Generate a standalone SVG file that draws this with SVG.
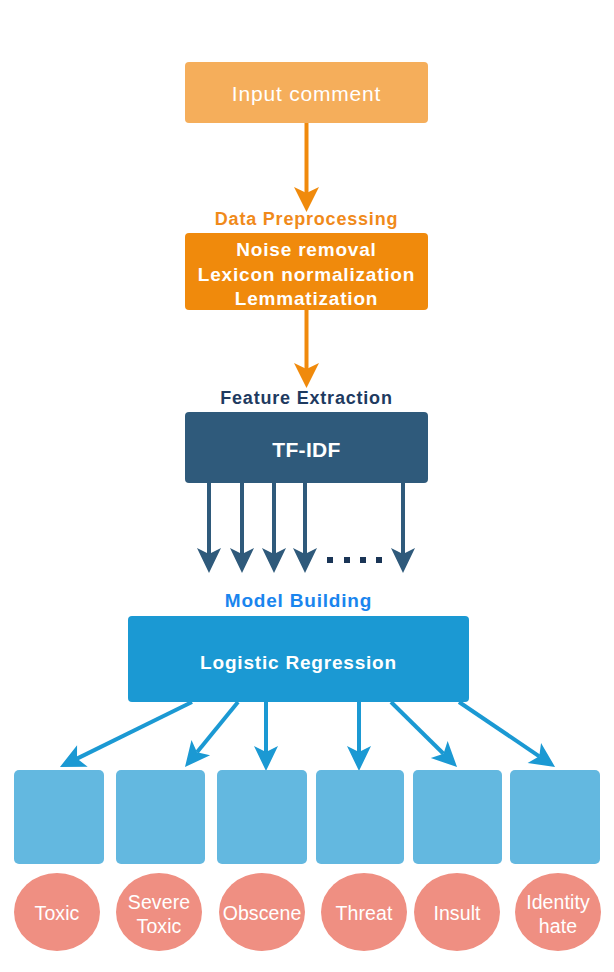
<svg xmlns="http://www.w3.org/2000/svg" width="614" height="972" viewBox="0 0 614 972">
<defs>
<marker id="ahO" markerUnits="userSpaceOnUse" markerWidth="27" markerHeight="26" viewBox="-7 -13 27 26" refX="0" refY="0" orient="auto"><path d="M19,0 L-6,-12.5 L0,0 L-6,12.5 Z" fill="#F08A0C"/></marker>
<marker id="ahD" markerUnits="userSpaceOnUse" markerWidth="27" markerHeight="26" viewBox="-7 -13 27 26" refX="0" refY="0" orient="auto"><path d="M19,0 L-6,-12 L0,0 L-6,12 Z" fill="#2F5A7B"/></marker>
<marker id="ahB" markerUnits="userSpaceOnUse" markerWidth="27" markerHeight="26" viewBox="-7 -13 27 26" refX="0" refY="0" orient="auto"><path d="M19,0 L-6,-12 L0,0 L-6,12 Z" fill="#1B99D3"/></marker>
</defs>
<style>
text{font-family:"Liberation Sans",Arial,sans-serif;text-anchor:middle}
.b{font-weight:bold;letter-spacing:0.8px}
.w{fill:#fff}
.lbl{font-size:18px}
.sq{fill:#63B8E0}
.ci{fill:#EF8F82}
.cl{font-size:19.5px;fill:#fff;letter-spacing:0.1px}
.co{stroke:#F08A0C;stroke-width:4;fill:none;marker-end:url(#ahO)}
.cd{stroke:#2F5A7B;stroke-width:4;fill:none;marker-end:url(#ahD)}
.cb{stroke:#1B99D3;stroke-width:4;fill:none;marker-end:url(#ahB)}
</style>
<rect width="614" height="972" fill="#fff"/>
<g id="connectors">
<line class="co" x1="306.5" y1="123" x2="306.5" y2="193"/>
<line class="co" x1="306.5" y1="310" x2="306.5" y2="369"/>
<line class="cd" x1="209" y1="483" x2="209" y2="554"/>
<line class="cd" x1="242" y1="483" x2="242" y2="554"/>
<line class="cd" x1="274" y1="483" x2="274" y2="554"/>
<line class="cd" x1="305" y1="483" x2="305" y2="554"/>
<line class="cd" x1="403" y1="483" x2="403" y2="554"/>
<g fill="#1A3556">
<rect x="327" y="557" width="6" height="6"/>
<rect x="344" y="557" width="6" height="6"/>
<rect x="360" y="557" width="6" height="6"/>
<rect x="376" y="557" width="6" height="6"/>
</g>
<line class="cb" x1="192" y1="702" x2="77" y2="758.6"/>
<line class="cb" x1="238" y1="702" x2="197" y2="752.3"/>
<line class="cb" x1="266" y1="702" x2="266" y2="752"/>
<line class="cb" x1="359" y1="702" x2="359" y2="752"/>
<line class="cb" x1="391" y1="702" x2="443.5" y2="753.7"/>
<line class="cb" x1="459" y1="702" x2="539.3" y2="756.3"/>
</g>
<g id="input">
<rect x="185" y="62" width="243" height="61" rx="4" fill="#F5AE5B"/>
<text x="306.5" y="100.5" class="w" style="font-size:21px;letter-spacing:0.8px">Input comment</text>
</g>
<g id="preprocessing">
<text x="306.5" y="224.5" class="b lbl" fill="#F08A1A">Data Preprocessing</text>
<rect x="185" y="233" width="243" height="77" rx="4" fill="#F08A0C"/>
<text x="306.5" y="255.8" class="b w" style="font-size:19px">Noise removal</text>
<text x="306.5" y="280.8" class="b w" style="font-size:19px">Lexicon normalization</text>
<text x="306.5" y="304.8" class="b w" style="font-size:19px">Lemmatization</text>
</g>
<g id="feature">
<text x="306.5" y="403.5" class="b lbl" fill="#1E3A5F">Feature Extraction</text>
<rect x="185" y="412" width="243" height="71" rx="4" fill="#2F5A7B"/>
<text x="306.5" y="457" class="w" style="font-size:21px;font-weight:bold;letter-spacing:0.3px">TF-IDF</text>
</g>
<g id="model">
<text x="298.5" y="607" class="b" style="font-size:19px" fill="#1A85EE">Model Building</text>
<rect x="128" y="616" width="341" height="86" rx="4" fill="#1B99D3"/>
<text x="298.5" y="669" class="b w" style="font-size:19px">Logistic Regression</text>
</g>
<g id="toxic"><rect class="sq" x="14" y="770" width="90" height="94" rx="5"/><ellipse class="ci" cx="57" cy="912" rx="43" ry="39"/><text class="cl" x="57" y="920">Toxic</text></g>
<g id="severe"><rect class="sq" x="116" y="770" width="89" height="94" rx="5"/><ellipse class="ci" cx="159" cy="912" rx="43" ry="39"/><text class="cl" x="159" y="908.5">Severe</text><text class="cl" x="159" y="933">Toxic</text></g>
<g id="obscene"><rect class="sq" x="217" y="770" width="90" height="94" rx="5"/><ellipse class="ci" cx="262" cy="912" rx="43" ry="39"/><text class="cl" x="262" y="920">Obscene</text></g>
<g id="threat"><rect class="sq" x="316" y="770" width="88" height="94" rx="5"/><ellipse class="ci" cx="364" cy="912" rx="43" ry="39"/><text class="cl" x="364" y="920">Threat</text></g>
<g id="insult"><rect class="sq" x="413" y="770" width="89" height="94" rx="5"/><ellipse class="ci" cx="457" cy="912" rx="43" ry="39"/><text class="cl" x="457" y="920">Insult</text></g>
<g id="identity"><rect class="sq" x="510" y="770" width="90" height="94" rx="5"/><ellipse class="ci" cx="558" cy="912" rx="43" ry="39"/><text class="cl" x="558" y="908.5">Identity</text><text class="cl" x="558" y="933">hate</text></g>
</svg>
